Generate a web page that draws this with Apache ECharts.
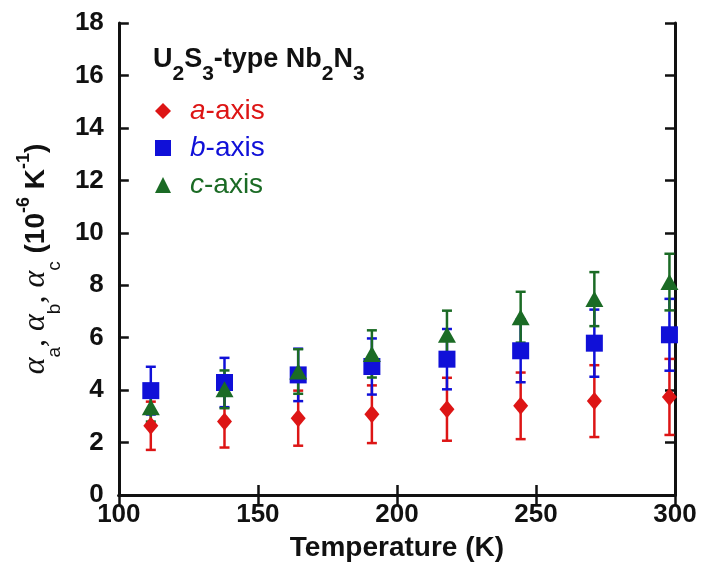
<!DOCTYPE html>
<html>
<head>
<meta charset="utf-8">
<script src="https://cdn.jsdelivr.net/npm/echarts@6/dist/echarts.min.js"></script>
<style>
  html, body { margin: 0; padding: 0; background: #ffffff; }
  #chart { width: 701px; height: 568px; }
</style>
</head>
<body>
<div id="chart"></div>
<script>
// Measurement temperatures (K)
const temperatures = [111.5, 138, 164.5, 191, 218, 244.5, 271, 298];

// Linear thermal expansion coefficients (10^-6 K^-1) and their uncertainties
const alphaA = [2.64, 2.80, 2.93, 3.08, 3.27, 3.40, 3.58, 3.74];
const errA   = [0.92, 0.99, 1.05, 1.10, 1.20, 1.27, 1.37, 1.45];
const alphaB = [3.98, 4.29, 4.58, 4.90, 5.18, 5.50, 5.79, 6.11];
const errB   = [0.91, 0.94, 1.00, 1.07, 1.15, 1.20, 1.28, 1.37];
const alphaC = [3.35, 4.03, 4.71, 5.38, 6.11, 6.78, 7.47, 8.12];
const errC   = [0.55, 0.72, 0.85, 0.90, 0.92, 0.97, 1.03, 1.08];

// Axis ranges
const xRange = { min: 100, max: 300, interval: 50 };
const yRange = { min: 0, max: 18, interval: 2 };

const RED = '#dd1515';
const BLUE = '#1010d8';
const GREEN = '#1b6b25';
const INK = '#111111';
const SANS = 'Liberation Sans, Arial, sans-serif';
const SERIF = 'Liberation Serif, Times New Roman, serif';

function errorBars(name, values, errors, color) {
  return {
    name: name,
    type: 'custom',
    z: 2,
    data: temperatures.map((t, i) => [t, values[i] - errors[i], values[i] + errors[i]]),
    encode: { x: 0, y: [1, 2] },
    renderItem: function (params, api) {
      const lo = api.coord([api.value(0), api.value(1)]);
      const hi = api.coord([api.value(0), api.value(2)]);
      const w = 5;
      const style = { stroke: color, lineWidth: 2.5 };
      return {
        type: 'group',
        children: [
          { type: 'line', shape: { x1: lo[0], y1: lo[1], x2: hi[0], y2: hi[1] }, style: style },
          { type: 'line', shape: { x1: lo[0] - w, y1: lo[1], x2: lo[0] + w, y2: lo[1] }, style: style },
          { type: 'line', shape: { x1: hi[0] - w, y1: hi[1], x2: hi[0] + w, y2: hi[1] }, style: style }
        ]
      };
    }
  };
}

function points(name, values, symbol, size, color) {
  return {
    name: name,
    type: 'scatter',
    z: 3,
    symbol: symbol,
    symbolSize: size,
    itemStyle: { color: color, opacity: 1 },
    data: temperatures.map((t, i) => [t, values[i]])
  };
}

const boxLine = { show: true, lineStyle: { color: INK, width: 3 } };
const boxTick = { show: true, inside: true, length: 10, lineStyle: { color: INK, width: 2.5 } };

const chart = echarts.init(document.getElementById('chart'), null, { renderer: 'canvas' });

chart.setOption({
  animation: false,
  backgroundColor: '#ffffff',
  grid: { left: 114, right: 26, top: 23, bottom: 73, containLabel: false },
  title: {
    text: 'U{s|2}S{s|3}-type Nb{s|2}N{s|3}',
    left: 148,
    top: 30,
    textStyle: {
      fontFamily: SANS,
      fontSize: 27,
      fontWeight: 'bold',
      color: INK,
      lineHeight: 50,
      rich: {
        s: { fontFamily: SANS, fontSize: 21, fontWeight: 'bold', color: INK, lineHeight: 21, verticalAlign: 'bottom' }
      }
    }
  },
  legend: {
    orient: 'vertical',
    left: 150,
    top: 91,
    itemWidth: 16,
    itemHeight: 16,
    itemGap: 7,
    selectedMode: false,
    data: [
      { name: 'a-axis', icon: 'diamond', textStyle: { color: RED } },
      { name: 'b-axis', icon: 'rect', textStyle: { color: BLUE } },
      { name: 'c-axis', icon: 'triangle', textStyle: { color: GREEN } }
    ],
    formatter: function (name) {
      return '{i|' + name.charAt(0) + '}' + name.slice(1);
    },
    textStyle: {
      fontFamily: SANS,
      fontSize: 28,
      lineHeight: 30,
      padding: [0, 0, 0, 14],
      rich: {
        i: { fontFamily: SANS, fontSize: 28, fontStyle: 'italic', lineHeight: 30 }
      }
    }
  },
  xAxis: [
    {
      type: 'value',
      position: 'bottom',
      min: xRange.min, max: xRange.max, interval: xRange.interval,
      name: 'Temperature (K)',
      nameLocation: 'middle',
      nameGap: 39,
      nameTextStyle: { fontFamily: SANS, fontSize: 28, fontWeight: 'bold', color: INK },
      axisLine: boxLine,
      axisTick: boxTick,
      splitLine: { show: false },
      axisLabel: { margin: 7, fontFamily: SANS, fontSize: 26, fontWeight: 'bold', color: INK }
    },
    {
      type: 'value',
      position: 'top',
      min: xRange.min, max: xRange.max, interval: xRange.interval,
      axisLine: boxLine,
      axisTick: boxTick,
      splitLine: { show: false },
      axisLabel: { show: false }
    }
  ],
  yAxis: [
    {
      type: 'value',
      position: 'left',
      min: yRange.min, max: yRange.max, interval: yRange.interval,
      name: '{al|α}{sb|a}{al|, α}{sb|b}{al|, α}{sb|c}{m| (10}{sp|-6}{m| K}{sp|-1}{m|)}',
      nameLocation: 'middle',
      nameRotate: 90,
      nameGap: 49,
      nameTextStyle: {
        color: INK,
        rich: {
          al: { fontFamily: SERIF, fontStyle: 'italic', fontSize: 32, lineHeight: 56, color: INK },
          sb: { fontFamily: SANS, fontSize: 19, lineHeight: 19, verticalAlign: 'bottom', color: INK },
          m: { fontFamily: SANS, fontWeight: 'bold', fontSize: 28, lineHeight: 56, color: INK },
          sp: { fontFamily: SANS, fontWeight: 'bold', fontSize: 18, lineHeight: 18, verticalAlign: 'top', padding: [7, 0, 0, 0], color: INK }
        }
      },
      axisLine: boxLine,
      axisTick: boxTick,
      splitLine: { show: false },
      axisLabel: { margin: 15, fontFamily: SANS, fontSize: 26, fontWeight: 'bold', color: INK }
    },
    {
      type: 'value',
      position: 'right',
      min: yRange.min, max: yRange.max, interval: yRange.interval,
      axisLine: boxLine,
      axisTick: boxTick,
      splitLine: { show: false },
      axisLabel: { show: false }
    }
  ],
  series: [
    errorBars('a-axis error', alphaA, errA, RED),
    points('a-axis', alphaA, 'diamond', [15, 18], RED),
    errorBars('b-axis error', alphaB, errB, BLUE),
    points('b-axis', alphaB, 'rect', [17, 17], BLUE),
    errorBars('c-axis error', alphaC, errC, GREEN),
    points('c-axis', alphaC, 'triangle', [18, 16], GREEN)
  ]
});
</script>
</body>
</html>
